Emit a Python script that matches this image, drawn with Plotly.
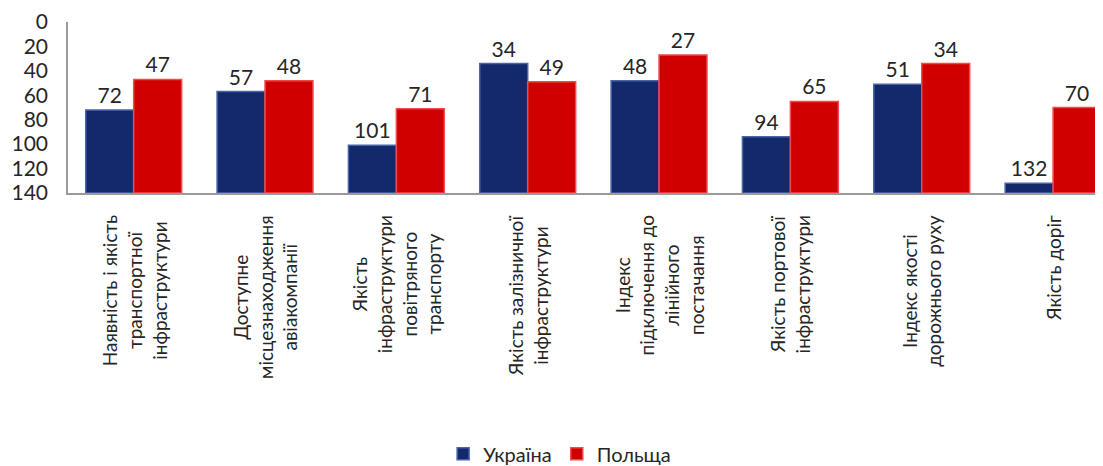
import plotly.graph_objects as go

categories = [
    "Наявність і якість<br>транспортної<br>інфраструктури",
    "Доступне<br>місцезнаходження<br>авіакомпанії",
    "Якість<br>інфраструктури<br>повітряного<br>транспорту",
    "Якість залізничної<br>інфраструктури",
    "Індекс<br>підключення до<br>лінійного<br>постачання",
    "Якість портової<br>інфраструктури",
    "Індекс якості<br>дорожнього руху",
    "Якість доріг",
]
ukraine = [72, 57, 101, 34, 48, 94, 51, 132]
poland = [47, 48, 71, 49, 27, 65, 34, 70]
series_names = ["Україна", "Польща"]
y_ticks = [0, 20, 40, 60, 80, 100, 120, 140]
axis_bottom = 140

FONT = "Lato, 'Open Sans', sans-serif"
idx = list(range(len(categories)))

fig = go.Figure()
for name, vals, col, edge in [
    (series_names[0], ukraine, "#13296b", "#4a64a8"),
    (series_names[1], poland, "#d10000", "#f04a4a"),
]:
    fig.add_trace(go.Bar(
        x=idx,
        y=[v - axis_bottom for v in vals],
        base=[axis_bottom] * len(vals),
        name=name,
        marker=dict(color=col, line=dict(color=edge, width=1.5)),
        text=[str(v) for v in vals],
        textposition="outside",
        textfont=dict(family=FONT, size=21, color="#262626"),
        cliponaxis=False,
    ))

for i, c in enumerate(categories):
    fig.add_annotation(
        x=i, y=0, xref="x", yref="paper",
        text=c, textangle=-90, showarrow=False,
        xanchor="center", yanchor="top", yshift=-20,
        align="center",
        font=dict(family=FONT, size=19, color="#262626"),
    )

# page body adds an 8px offset; figure sized to fill the rest of the window
fig.update_layout(
    width=1095, height=458,
    margin=dict(l=60, r=0, t=14, b=273, autoexpand=False),
    paper_bgcolor="white", plot_bgcolor="white",
    barmode="group", bargap=0.27, bargroupgap=0,
    showlegend=True,
    legend=dict(orientation="h", x=0.475, xanchor="center", y=-1.525, yanchor="middle",
                font=dict(family=FONT, size=20, color="#262626"),
                itemwidth=30, tracegroupgap=0),
    font=dict(family=FONT),
)
fig.update_xaxes(
    range=[-0.5, 7.38], showticklabels=False, ticks="",
    showline=True, linecolor="#9a9a9a", linewidth=1.5,
    showgrid=False, zeroline=False, automargin=False,
)
fig.update_yaxes(
    range=[140, 0], tickvals=y_ticks, ticktext=[str(t) for t in y_ticks],
    showline=True, linecolor="#9a9a9a", linewidth=1.5, mirror=False,
    ticks="outside", ticklen=14, tickcolor="rgba(255,255,255,0)",
    tickfont=dict(family=FONT, size=21, color="#262626"),
    showgrid=False, zeroline=False, automargin=False,
)
fig.write_html("out.html")
